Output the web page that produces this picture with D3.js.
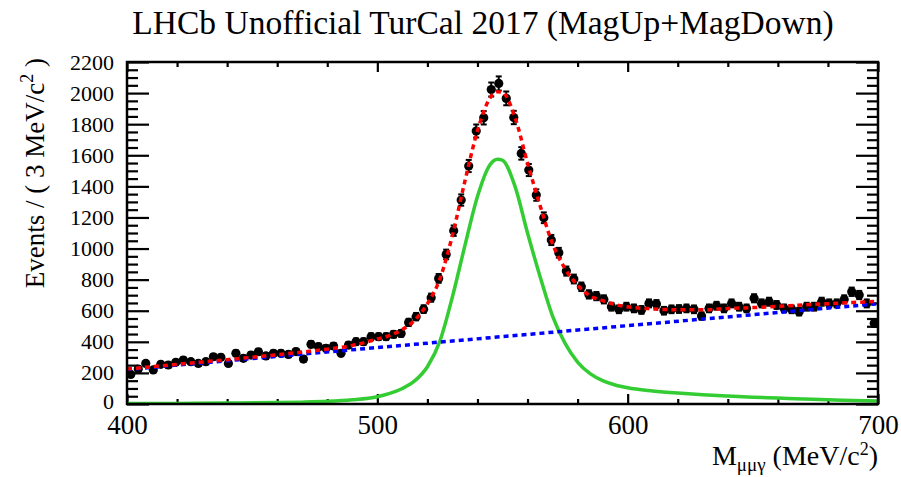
<!DOCTYPE html>
<html>
<head>
<meta charset="utf-8">
<script src="https://cdn.jsdelivr.net/npm/d3@7"></script>
<style>
body { margin: 0; background: #fff; }
svg text { font-family: "Liberation Serif", "DejaVu Serif", serif; fill: #000; }
</style>
</head>
<body>
<script>
// histogram: 3 MeV bins from 400 to 700
const binLow = 400;
const binWidth = 3;
const counts = [
  190, 225, 261, 219, 255, 251, 268, 283, 272, 261,
  272, 304, 300, 261, 326, 294, 315, 336, 309, 326,
  326, 319, 337, 289, 384, 369, 358, 373, 326, 379,
  401, 401, 433, 433, 433, 448, 454, 525, 562, 610,
  684, 808, 962, 1115, 1312, 1531, 1756, 1841, 2023, 2062,
  1966, 1843, 1612, 1505, 1344, 1198, 1055, 973, 855, 804,
  754, 705, 694, 673, 626, 609, 626, 615, 605, 647,
  643, 600, 609, 611, 615, 609, 566, 615, 632, 615,
  647, 626, 615, 680, 647, 658, 637, 615, 609, 594,
  626, 626, 658, 647, 647, 673, 722, 701, 647, 519
];

// fit curves
const curveMass   = [400, 420, 440, 460, 470, 480, 490, 500, 505, 510, 515, 520, 525, 530, 535, 540, 545, 548, 550, 555, 560, 565, 570, 575, 580, 585, 590, 595, 600, 610, 620, 630, 640, 650, 660, 670, 680, 690, 700];
const signalFit   = [3, 4, 6, 9, 12, 17, 27, 47, 68, 100, 150, 240, 405, 690, 1020, 1335, 1539, 1575, 1568, 1400, 1100, 820, 565, 390, 270, 195, 150, 122, 104, 84, 70, 59, 51, 44, 38, 32, 27, 23, 19];
const totalFit    = [225, 255, 285, 317, 334, 353, 377, 418, 442, 479, 540, 645, 805, 1085, 1435, 1757, 1968, 2008, 2004, 1843, 1550, 1277, 1030, 870, 765, 695, 665, 640, 625, 612, 606, 606, 614, 620, 628, 637, 645, 653, 661];
const bkgMass = [400, 700];
const bkgFit  = [222, 645];

const xMajor = [400, 500, 600, 700];
const yMajor = [0, 200, 400, 600, 800, 1000, 1200, 1400, 1600, 1800, 2000, 2200];

const W = 901, H = 477;
const margin = {top: 62, right: 23, bottom: 73, left: 127};
const innerW = W - margin.left - margin.right;
const innerH = H - margin.top - margin.bottom;

const svg = d3.select("body").append("svg")
    .attr("width", W)
    .attr("height", H);

const g = svg.append("g")
    .attr("transform", "translate(" + margin.left + "," + margin.top + ")");

const x = d3.scaleLinear().domain([400, 700]).range([0, innerW]);
const y = d3.scaleLinear().domain([0, 2200]).range([innerH, 0]);

svg.append("defs").append("clipPath").attr("id", "plotclip")
  .append("rect").attr("width", innerW).attr("height", innerH);

// ticks
const xMinor = d3.range(400, 701, 20).filter(v => !xMajor.includes(v));
const yMinor = d3.range(0, 2201, 50).filter(v => !yMajor.includes(v));

function ticksOnly(axis) {
  return sel => { sel.call(axis); sel.select(".domain").remove(); sel.selectAll("line").attr("stroke-width", 2.2); };
}

g.append("g").attr("transform", "translate(0," + innerH + ")")
  .call(ticksOnly(d3.axisBottom(x).tickValues(xMinor).tickSize(-5).tickFormat("")));
g.append("g").attr("transform", "translate(0," + innerH + ")")
  .call(ticksOnly(d3.axisBottom(x).tickValues(xMajor).tickSize(-10).tickPadding(11).tickFormat(d3.format("d"))))
  .selectAll("text").style("font-size", "27px");
g.append("g").call(ticksOnly(d3.axisTop(x).tickValues(xMinor).tickSize(-5).tickFormat("")));
g.append("g").call(ticksOnly(d3.axisTop(x).tickValues(xMajor).tickSize(-10).tickFormat("")));

g.append("g").call(ticksOnly(d3.axisLeft(y).tickValues(yMinor).tickSize(-11).tickFormat("")));
g.append("g").call(ticksOnly(d3.axisLeft(y).tickValues(yMajor).tickSize(-22).tickPadding(13).tickFormat(d3.format("d"))))
  .selectAll("text").style("font-size", "22px")
  .attr("dy", d => d === 0 ? "0.2em" : "0.32em");
g.append("g").attr("transform", "translate(" + innerW + ",0)")
  .call(ticksOnly(d3.axisRight(y).tickValues(yMinor).tickSize(-11).tickFormat("")));
g.append("g").attr("transform", "translate(" + innerW + ",0)")
  .call(ticksOnly(d3.axisRight(y).tickValues(yMajor).tickSize(-22).tickFormat("")));

// data points with sqrt(N) errors
const pts = counts.map((n, i) => ({m: binLow + binWidth * (i + 0.5), n: n, e: Math.sqrt(n)}));
const data = g.append("g").attr("clip-path", "url(#plotclip)");
data.selectAll(".err").data(pts).join("line")
  .attr("x1", d => x(d.m)).attr("x2", d => x(d.m))
  .attr("y1", d => y(d.n - d.e)).attr("y2", d => y(d.n + d.e))
  .attr("stroke", "#000").attr("stroke-width", 2);
data.selectAll(".capt").data(pts).join("line")
  .attr("x1", d => x(d.m) - 3).attr("x2", d => x(d.m) + 3)
  .attr("y1", d => y(d.n + d.e)).attr("y2", d => y(d.n + d.e))
  .attr("stroke", "#000").attr("stroke-width", 2);
data.selectAll(".capb").data(pts).join("line")
  .attr("x1", d => x(d.m) - 3).attr("x2", d => x(d.m) + 3)
  .attr("y1", d => y(d.n - d.e)).attr("y2", d => y(d.n - d.e))
  .attr("stroke", "#000").attr("stroke-width", 2);
data.selectAll("circle").data(pts).join("circle")
  .attr("cx", d => x(d.m)).attr("cy", d => y(d.n)).attr("r", 4.6)
  .attr("fill", "#000");

// fit curves
const curves = g.append("g").attr("clip-path", "url(#plotclip)");
const line = d3.line().x(d => x(d[0])).y(d => y(d[1])).curve(d3.curveMonotoneX);

curves.append("path")
  .attr("d", line(d3.zip(curveMass, signalFit)))
  .attr("fill", "none").attr("stroke", "#33cc33").attr("stroke-width", 3.5);
curves.append("path")
  .attr("d", line(d3.zip(bkgMass, bkgFit)))
  .attr("fill", "none").attr("stroke", "#0000ff").attr("stroke-width", 3.5)
  .attr("stroke-dasharray", "5,4");
curves.append("path")
  .attr("d", line(d3.zip(curveMass, totalFit)))
  .attr("fill", "none").attr("stroke", "#ff0000").attr("stroke-width", 3.5)
  .attr("stroke-dasharray", "5,4");

// frame
g.append("rect").attr("width", innerW).attr("height", innerH)
  .attr("fill", "none").attr("stroke", "#000").attr("stroke-width", 2.5);

// titles
svg.append("text")
  .attr("x", 483).attr("y", 34)
  .attr("text-anchor", "middle")
  .style("font-size", "33.5px")
  .text("LHCb Unofficial TurCal 2017 (MagUp+MagDown)");

const yt = svg.append("text")
  .attr("transform", "translate(44,58) rotate(-90)")
  .attr("text-anchor", "end")
  .style("font-size", "27px");
yt.append("tspan").text("Events / ( 3 MeV/c");
yt.append("tspan").attr("dy", -11).style("font-size", "18px").text("2");
yt.append("tspan").attr("dy", 11).text(" )");

const xt = svg.append("text")
  .attr("x", 878).attr("y", 465)
  .attr("text-anchor", "end")
  .style("font-size", "28px");
xt.append("tspan").text("M");
xt.append("tspan").attr("dy", 6).style("font-size", "19px").text("μμγ");
xt.append("tspan").attr("dy", -6).text(" (MeV/c");
xt.append("tspan").attr("dy", -10).style("font-size", "18px").text("2");
xt.append("tspan").attr("dy", 10).text(")");
</script>
</body>
</html>
